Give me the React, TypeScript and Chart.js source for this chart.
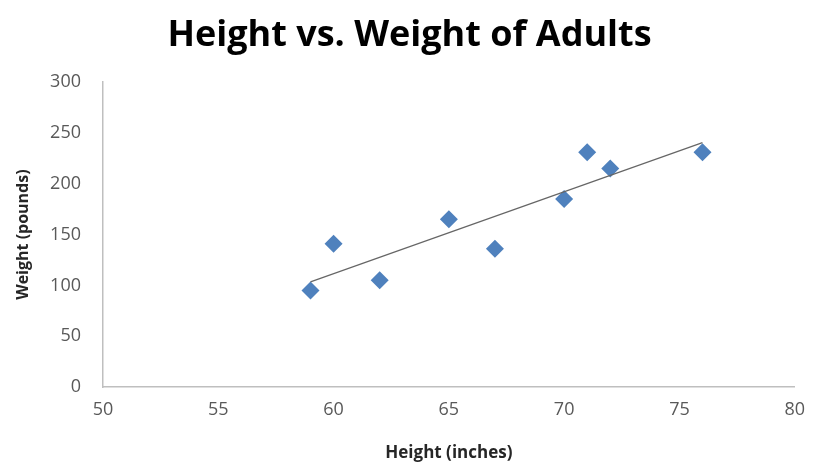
import React, { useEffect, useRef } from "react";
import { Chart, registerables } from "chart.js";

Chart.register(...registerables);

const heights = [59, 60, 62, 65, 67, 70, 71, 72, 76];
const weights = [95, 141, 105, 165, 136, 185, 231, 215, 231];
const trendX = [59, 76];
const trendY = [103.5, 240.5];
const xTicks = [50, 55, 60, 65, 70, 75, 80];
const yTicks = [0, 50, 100, 150, 200, 250, 300];
const titleText = "Height vs. Weight of Adults";
const xTitle = "Height (inches)";
const yTitle = "Weight (pounds)";

export default function App() {
  const ref = useRef<HTMLCanvasElement | null>(null);
  useEffect(() => {
    if (!ref.current) return;
    const font = "'Open Sans', 'Liberation Sans', sans-serif";
    const chart = new Chart(ref.current, {
      type: "scatter",
      data: {
        datasets: [
          {
            label: "Weight",
            data: heights.map((h, i) => ({ x: h, y: weights[i] })),
            pointStyle: "rectRot",
            pointRadius: 9,
            pointHoverRadius: 9,
            backgroundColor: "#4F81BD",
            borderColor: "#4F81BD",
            borderWidth: 0,
            order: 1,
          },
          {
            type: "line",
            label: "Trend",
            data: trendX.map((x, i) => ({ x, y: trendY[i] })),
            borderColor: "#666666",
            borderWidth: 1.2,
            pointRadius: 0,
            showLine: true,
            fill: false,
            order: 0,
          } as any,
        ],
      },
      options: {
        animation: false,
        responsive: false,
        maintainAspectRatio: false,
        layout: { padding: { left: 14, right: 12, top: 4, bottom: 7 } },
        plugins: {
          legend: { display: false },
          tooltip: { enabled: false },
          title: {
            display: true,
            text: titleText,
            color: "#000000",
            font: { family: font, size: 36, weight: "bold" },
            padding: { top: 10, bottom: 25 },
          },
        },
        scales: {
          x: {
            type: "linear",
            min: 50,
            max: 80,
            afterBuildTicks: (s: any) => {
              s.ticks = xTicks.map((v) => ({ value: v }));
            },
            grid: { display: false, drawTicks: false },
            border: { display: true, color: "#BFBFBF", width: 1.5 },
            ticks: {
              color: "#595959",
              font: { family: font, size: 18 },
              padding: 12,
            },
            title: {
              display: true,
              text: xTitle,
              color: "#262626",
              font: { family: font, size: 17, weight: "bold" },
              padding: { top: 10, bottom: 0 },
            },
          },
          y: {
            type: "linear",
            min: 0,
            max: 300,
            afterBuildTicks: (s: any) => {
              s.ticks = yTicks.map((v) => ({ value: v }));
            },
            afterFit: (s: any) => {
              s.width = 89;
            },
            grid: { display: false, drawTicks: false },
            border: { display: true, color: "#BFBFBF", width: 1.5 },
            ticks: {
              color: "#595959",
              font: { family: font, size: 18 },
              padding: 22,
            },
            title: {
              display: true,
              text: yTitle,
              color: "#262626",
              font: { family: font, size: 16, weight: "bold" },
              padding: { top: 0, bottom: 0 },
            },
          },
        },
      },
    });
    return () => chart.destroy();
  }, []);
  return (
    <div style={{ position: "fixed", left: 0, top: 0, width: 817, height: 470, background: "#fff" }}>
      <canvas ref={ref} width={817} height={470} style={{ width: 817, height: 470, display: "block" }} />
    </div>
  );
}
